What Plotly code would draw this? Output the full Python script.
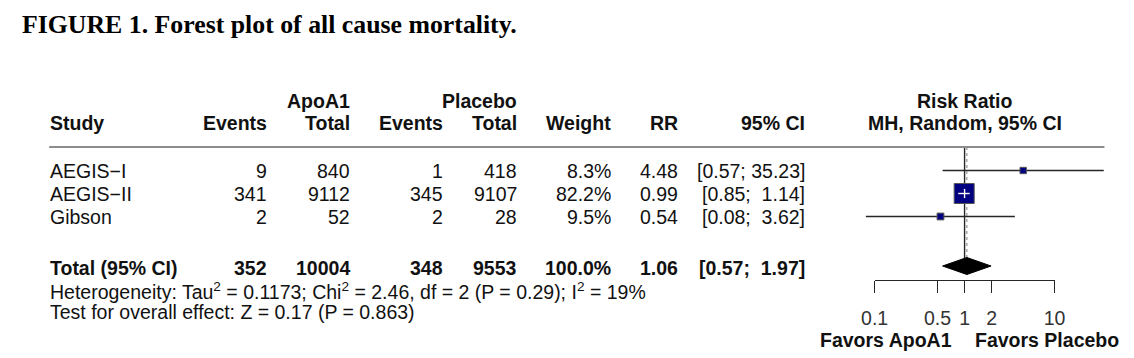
import math
import plotly.graph_objects as go

# ---------------- data ----------------
studies = ["AEGIS−I", "AEGIS−II", "Gibson"]
events_apo = [9, 341, 2]
total_apo = [840, 9112, 52]
events_pl = [1, 345, 2]
total_pl = [418, 9107, 28]
weight = [8.3, 82.2, 9.5]
rr = [4.48, 0.99, 0.54]
ci_lo = [0.57, 0.85, 0.08]
ci_hi = [35.23, 1.14, 3.62]
overall_rr = 1.06
overall_lo = 0.57
overall_hi = 1.97
tick_vals = [0.1, 0.5, 1, 2, 10]
tick_text = ["0.1", "0.5", "1", "2", "10"]
het_text = ("Heterogeneity: Tau<sup>2</sup> = 0.1173; Chi<sup>2</sup> = 2.46, "
            "df = 2 (P = 0.29); I<sup>2</sup> = 19%")
test_text = "Test for overall effect: Z = 0.17 (P = 0.863)"
title_text = "FIGURE 1. Forest plot of all cause mortality."

# ---------------- layout constants ----------------
W, H = 1134, 358
NULL_PX = 972.0       # pixel of RR = 1
DECADE_PX = 92.0      # pixels per log10 decade
ROW0 = 170.5
ROW_STEP = 23.0
row_y = [ROW0 + i * ROW_STEP for i in range(len(studies))]
TOTAL_Y = 268.0
DIAMOND_Y = 266.0
HET_Y = 290.5
TEST_Y = 312.0
HDR1_Y = 101.0
HDR2_Y = 123.0
LINE_Y = 147.0
AXIS_Y = 279.5
FAV_Y = 340.0

SANS = "Liberation Sans, Arial, Helvetica, sans-serif"
SERIF = "Liberation Serif, Times New Roman, serif"
FS = 19.5
TXT = "#111111"

def px2paper(px):
    return px / W

def fmt_ci(lo, hi):
    s = "[{:.2f}; {:>5.2f}]".format(lo, hi)
    return s.replace(" ", "\u00a0")

annotations = []

def add_text(x_px, y, text, anchor="right", bold=False, size=FS, color=TXT, family=SANS):
    if bold:
        text = "<b>" + text + "</b>"
    annotations.append(dict(
        x=px2paper(x_px), xref="paper", y=y, yref="y",
        text=text, showarrow=False, xanchor=anchor, yanchor="middle",
        font=dict(family=family, size=size, color=color), borderpad=0,
    ))

# column right edges (pixels)
COL_STUDY = 36
COL_EV_A = 260
COL_TOT_A = 345
COL_EV_P = 440
COL_TOT_P = 515
COL_W = 611
COL_RR = 680
COL_CI = 810
PLOT_CENTER = 972

# title
annotations.append(dict(
    x=px2paper(7), xref="paper", y=24, yref="y", text="<b>" + title_text + "</b>",
    showarrow=False, xanchor="left", yanchor="middle",
    font=dict(family=SERIF, size=25.8, color="#000000"), borderpad=0,
))

# headers
add_text(COL_TOT_A, HDR1_Y, "ApoA1", bold=True)
add_text(COL_TOT_P, HDR1_Y, "Placebo", bold=True)
add_text(PLOT_CENTER, HDR1_Y, "Risk Ratio", anchor="center", bold=True)
add_text(COL_STUDY, HDR2_Y, "Study", anchor="left", bold=True)
add_text(COL_EV_A, HDR2_Y, "Events", bold=True)
add_text(COL_TOT_A, HDR2_Y, "Total", bold=True)
add_text(COL_EV_P, HDR2_Y, "Events", bold=True)
add_text(COL_TOT_P, HDR2_Y, "Total", bold=True)
add_text(COL_W, HDR2_Y, "Weight", bold=True)
add_text(COL_RR, HDR2_Y, "RR", bold=True)
add_text(COL_CI, HDR2_Y, "95% CI", bold=True)
add_text(PLOT_CENTER, HDR2_Y, "MH, Random, 95% CI", anchor="center", bold=True)

# study rows
for i, s in enumerate(studies):
    y = row_y[i]
    add_text(COL_STUDY, y, s, anchor="left")
    add_text(COL_EV_A, y, str(events_apo[i]))
    add_text(COL_TOT_A, y, str(total_apo[i]))
    add_text(COL_EV_P, y, str(events_pl[i]))
    add_text(COL_TOT_P, y, str(total_pl[i]))
    add_text(COL_W, y, "{:.1f}%".format(weight[i]))
    add_text(COL_RR, y, "{:.2f}".format(rr[i]))
    add_text(COL_CI, y, fmt_ci(ci_lo[i], ci_hi[i]))

# total row
add_text(COL_STUDY, TOTAL_Y, "Total (95% CI)", anchor="left", bold=True)
add_text(COL_EV_A, TOTAL_Y, str(sum(events_apo)), bold=True)
add_text(COL_TOT_A, TOTAL_Y, str(sum(total_apo)), bold=True)
add_text(COL_EV_P, TOTAL_Y, str(sum(events_pl)), bold=True)
add_text(COL_TOT_P, TOTAL_Y, str(sum(total_pl)), bold=True)
add_text(COL_W, TOTAL_Y, "{:.1f}%".format(sum(weight)), bold=True)
add_text(COL_RR, TOTAL_Y, "{:.2f}".format(overall_rr), bold=True)
add_text(COL_CI, TOTAL_Y, fmt_ci(overall_lo, overall_hi), bold=True)

add_text(COL_STUDY, HET_Y, het_text, anchor="left")
add_text(COL_STUDY, TEST_Y, test_text, anchor="left")

add_text(960, FAV_Y, "Favors ApoA1", anchor="right", bold=True)
add_text(982, FAV_Y, "Favors Placebo", anchor="left", bold=True)

fig = go.Figure()

LINE_COL = "#262626"

# CI lines
xs, ys = [], []
for i in range(len(studies)):
    xs += [ci_lo[i], ci_hi[i], None]
    ys += [row_y[i], row_y[i], None]
fig.add_trace(go.Scatter(x=xs, y=ys, mode="lines", line=dict(color=LINE_COL, width=1.4),
                         hoverinfo="skip", showlegend=False))

# null line (solid) and random-effects line (dotted)
fig.add_trace(go.Scatter(x=[1, 1], y=[LINE_Y, DIAMOND_Y + 8], mode="lines",
                         line=dict(color=LINE_COL, width=1.4), hoverinfo="skip",
                         showlegend=False))
fig.add_trace(go.Scatter(x=[overall_rr, overall_rr], y=[LINE_Y, DIAMOND_Y], mode="lines",
                         line=dict(color="#8a8a8a", width=1.1, dash="dot"), hoverinfo="skip",
                         showlegend=False))

# squares (area proportional to weight)
SQ_K = 20.0 / math.sqrt(max(weight))
sizes = [SQ_K * math.sqrt(w) for w in weight]
fig.add_trace(go.Scatter(x=rr, y=row_y, mode="markers",
                         marker=dict(symbol="square", size=sizes, color="#000080", opacity=1,
                                     line=dict(color="#555555", width=1)),
                         hoverinfo="skip", showlegend=False))

# CI lines that fall inside their square are drawn in white
wx, wy = [], []
for i in range(len(studies)):
    span = DECADE_PX * (math.log10(ci_hi[i]) - math.log10(ci_lo[i]))
    if span < sizes[i]:
        wx += [ci_lo[i], ci_hi[i], None, 1, 1, None]
        wy += [row_y[i], row_y[i], None, row_y[i] - sizes[i] * 0.23, row_y[i] + sizes[i] * 0.23, None]
fig.add_trace(go.Scatter(x=wx, y=wy, mode="lines", line=dict(color="white", width=1.4),
                         hoverinfo="skip", showlegend=False))

# diamond
DH = 8.5
fig.add_trace(go.Scatter(x=[overall_lo, overall_rr, overall_hi, overall_rr, overall_lo],
                         y=[DIAMOND_Y, DIAMOND_Y - DH, DIAMOND_Y, DIAMOND_Y + DH, DIAMOND_Y],
                         mode="lines", fill="toself", fillcolor="#000000",
                         line=dict(color="#000000", width=1), hoverinfo="skip",
                         showlegend=False))

# invisible trace to activate the displayed axis (x2)
fig.add_trace(go.Scatter(x=[1], y=[AXIS_Y], xaxis="x2", yaxis="y", mode="markers",
                         marker=dict(size=1, opacity=0), hoverinfo="skip", showlegend=False))

x_lo_log = (0 - NULL_PX) / DECADE_PX
x_hi_log = (W - NULL_PX) / DECADE_PX
ax_lo_px = NULL_PX + DECADE_PX * math.log10(min(tick_vals))
ax_hi_px = NULL_PX + DECADE_PX * math.log10(max(tick_vals))

shapes = [dict(type="line", xref="paper", yref="y", x0=px2paper(36), x1=px2paper(1115),
               y0=LINE_Y, y1=LINE_Y, line=dict(color="#8c8c8c", width=2))]

fig.update_layout(
    width=W, height=H, margin=dict(l=0, r=0, t=0, b=0),
    paper_bgcolor="white", plot_bgcolor="rgba(0,0,0,0)",
    showlegend=False,
    xaxis=dict(type="log", range=[x_lo_log, x_hi_log], domain=[0, 1], visible=False,
               fixedrange=True),
    xaxis2=dict(type="log", range=[math.log10(min(tick_vals)), math.log10(max(tick_vals))],
                domain=[px2paper(ax_lo_px), px2paper(ax_hi_px)], anchor="free",
                position=1 - AXIS_Y / H, showline=True, linecolor=LINE_COL, linewidth=1.4,
                ticks="outside", ticklen=12, tickwidth=1.4, tickcolor=LINE_COL,
                tickvals=tick_vals, ticktext=tick_text, showgrid=False, zeroline=False,
                tickfont=dict(family=SANS, size=FS, color="#333333"), ticklabelstandoff=9,
                fixedrange=True),
    yaxis=dict(range=[H, 0], domain=[0, 1], visible=False, fixedrange=True),
    annotations=annotations,
    shapes=shapes,
)

# remove the default 8px page margin so the figure fills the window exactly
fig.write_html("out.html", config={"displayModeBar": False},
               post_script="document.body.style.margin='0';document.body.style.overflow='hidden';")
